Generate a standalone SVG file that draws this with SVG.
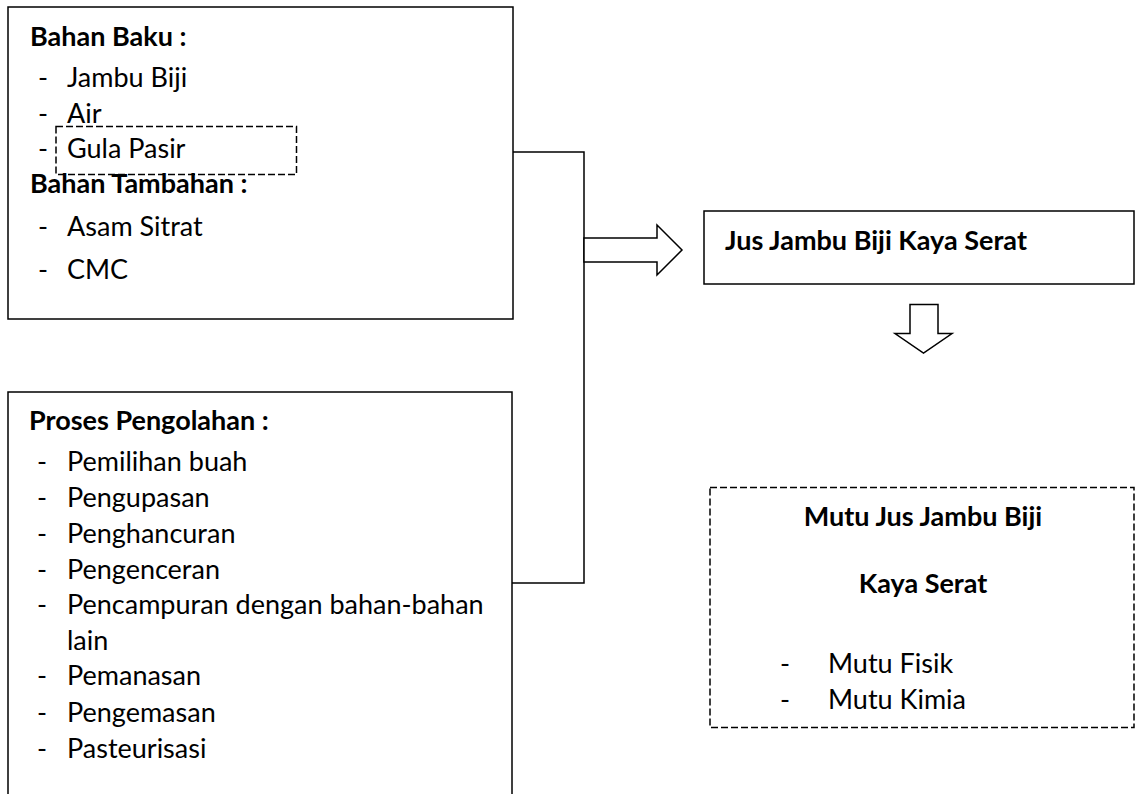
<svg xmlns="http://www.w3.org/2000/svg" width="1136" height="794" viewBox="0 0 1136 794">
<style>
.box{fill:#fff;stroke:#000;stroke-width:1.5}
.dash{fill:none;stroke:#000;stroke-width:1.5;stroke-dasharray:7 3}
.ln{fill:none;stroke:#000;stroke-width:1.5}
.arr{fill:#fff;stroke:#000;stroke-width:1.5;stroke-linejoin:miter}
text{font-family:Lato,"Liberation Sans",sans-serif;font-size:27px;fill:#000}
.b{font-weight:bold}
.m{text-anchor:middle}
</style>
<rect width="1136" height="794" fill="#fff"/>
<g id="connectors">
<polyline class="ln" points="513,152 584,152 584,583 512,583"/>
<polygon class="arr" points="584,238 657,238 657,225 682,250 657,275 657,262 584,262"/>
<polygon class="arr" points="910,304.5 938,304.5 938,333.5 952,333.5 923.5,353 895,333.5 910,333.5"/>
</g>
<g id="bahan">
<rect class="box" x="8" y="7" width="505" height="312"/>
<rect class="dash" x="56" y="126.5" width="240.5" height="48"/>
<text class="b" x="30" y="46">Bahan Baku :</text>
<text x="38" y="86.5">-</text><text x="67" y="86.5">Jambu Biji</text>
<text x="38" y="122.5">-</text><text x="67" y="122.5">Air</text>
<text x="38" y="157.5">-</text><text x="67" y="157.5">Gula Pasir</text>
<text class="b" x="30" y="193">Bahan Tambahan :</text>
<text x="38" y="235.5">-</text><text x="67" y="235.5">Asam Sitrat</text>
<text x="38" y="279">-</text><text x="67" y="279">CMC</text>
</g>
<g id="proses">
<rect class="box" x="8" y="392" width="504" height="420"/>
<text class="b" x="29" y="430">Proses Pengolahan :</text>
<text x="37" y="470.5">-</text><text x="67" y="470.5">Pemilihan buah</text>
<text x="37" y="506.5">-</text><text x="67" y="506.5">Pengupasan</text>
<text x="37" y="542.5">-</text><text x="67" y="542.5">Penghancuran</text>
<text x="37" y="578.5">-</text><text x="67" y="578.5">Pengenceran</text>
<text x="37" y="613.5">-</text><text x="67" y="613.5">Pencampuran dengan bahan-bahan</text>
<text x="67" y="649.5">lain</text>
<text x="37" y="685">-</text><text x="67" y="685">Pemanasan</text>
<text x="37" y="721.5">-</text><text x="67" y="721.5">Pengemasan</text>
<text x="37" y="757.5">-</text><text x="67" y="757.5">Pasteurisasi</text>
</g>
<g id="jus">
<rect class="box" x="704" y="211" width="430" height="73"/>
<text class="b" x="725" y="250">Jus Jambu Biji Kaya Serat</text>
</g>
<g id="mutu">
<rect class="dash" x="710" y="487.5" width="424" height="240"/>
<text class="b m" x="923" y="526">Mutu Jus Jambu Biji</text>
<text class="b m" x="923" y="593">Kaya Serat</text>
<text x="780" y="673">-</text><text x="828" y="673">Mutu Fisik</text>
<text x="780" y="709">-</text><text x="828" y="709">Mutu Kimia</text>
</g>
</svg>
